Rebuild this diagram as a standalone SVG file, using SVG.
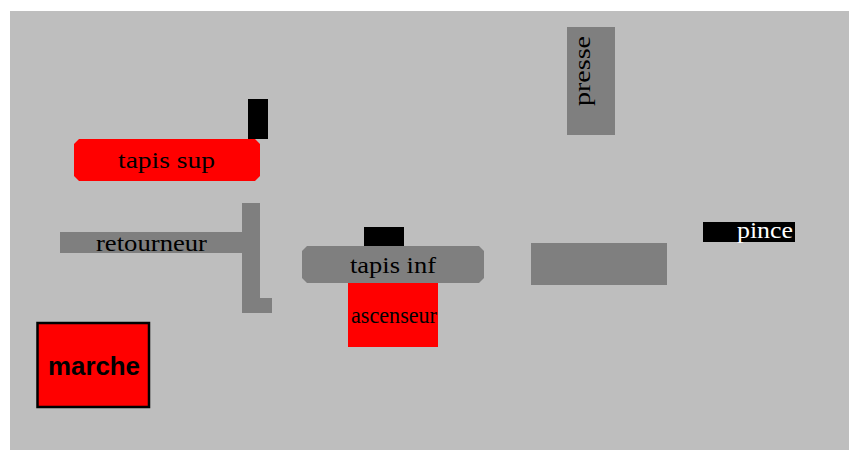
<svg xmlns="http://www.w3.org/2000/svg" width="849" height="450" viewBox="0 0 849 450">
<style>
.g{fill:#7f7f7f}
.r{fill:#ff0000}
.k{fill:#000000}
.t{font-family:"Liberation Serif","Times New Roman",serif;font-size:23px;fill:#000}
</style>
<rect x="0" y="0" width="849" height="450" fill="#ffffff"/>
<rect x="10" y="11" width="839" height="439" fill="#bebebe"/>
<g id="tapis_sup">
<rect class="k" x="248" y="99" width="20" height="40"/>
<polygon class="r" points="79,139 255,139 260,144 260,176 255,181 79,181 74,176 74,144"/>
<text class="t" x="118" y="168" textLength="97" lengthAdjust="spacingAndGlyphs">tapis sup</text>
</g>
<g id="retourneur">
<rect class="g" x="60" y="232" width="184" height="21"/>
<rect class="g" x="242" y="203" width="18" height="110"/>
<rect class="g" x="242" y="298" width="30" height="15"/>
<text class="t" x="96" y="251" font-size="22" textLength="111" lengthAdjust="spacingAndGlyphs">retourneur</text>
</g>
<g id="marche">
<rect class="r" x="37.5" y="323" width="111.5" height="84" stroke="#000" stroke-width="2.5"/>
<text x="48" y="375" font-family="Liberation Sans, Arial, sans-serif" font-weight="bold" font-size="26" textLength="92" lengthAdjust="spacingAndGlyphs">marche</text>
</g>
<g id="tapis_inf">
<rect class="k" x="364" y="227" width="40" height="20"/>
<polygon class="g" points="307,246 479,246 484,251 484,278 479,283 307,283 302,278 302,251"/>
<text class="t" x="350" y="273" textLength="86" lengthAdjust="spacingAndGlyphs">tapis inf</text>
</g>
<g id="ascenseur">
<rect class="r" x="348" y="283" width="90" height="64"/>
<text class="t" x="351" y="323" font-size="21" textLength="86" lengthAdjust="spacingAndGlyphs">ascenseur</text>
</g>
<g id="plateau">
<rect class="g" x="531" y="243" width="136" height="42"/>
</g>
<g id="presse">
<rect class="g" x="567" y="27" width="48" height="108"/>
<text class="t" transform="translate(590,106) rotate(-90)" x="0" y="0" font-size="22" textLength="70" lengthAdjust="spacingAndGlyphs">presse</text>
</g>
<g id="pince">
<rect class="k" x="703" y="222" width="92" height="20"/>
<text class="t" x="737" y="238" font-size="22" style="fill:#fff" textLength="56" lengthAdjust="spacingAndGlyphs">pince</text>
</g>
<g id="connectors"></g>
</svg>
